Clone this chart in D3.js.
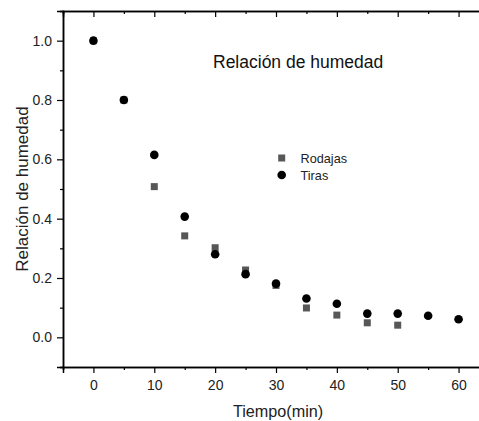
<!DOCTYPE html>
<html>
<head>
<meta charset="utf-8">
<script src="https://cdn.jsdelivr.net/npm/d3@7"></script>
<style>
html,body{margin:0;padding:0;background:#fff;}
svg{display:block;font-family:Arial,"Liberation Sans",sans-serif;}
</style>
</head>
<body>
<svg id="chart" width="479" height="421"></svg>
<script>
const tiempoRodajas = [0, 5, 10, 15, 20, 25, 30, 35, 40, 45, 50];
const rodajas = [1.0, 0.8, 0.508, 0.342, 0.302, 0.227, 0.175, 0.099, 0.075, 0.049, 0.041];
const tiempoTiras = [0, 5, 10, 15, 20, 25, 30, 35, 40, 45, 50, 55, 60];
const tiras = [1.0, 0.8, 0.615, 0.407, 0.280, 0.213, 0.181, 0.131, 0.113, 0.080, 0.080, 0.073, 0.061];
const xTicks = [0, 10, 20, 30, 40, 50, 60];
const xMinor = [-5, 5, 15, 25, 35, 45, 55, 65];
const yTicks = [0.0, 0.2, 0.4, 0.6, 0.8, 1.0];
const yMinor = [-0.1, 0.1, 0.3, 0.5, 0.7, 0.9, 1.1];
const title = "Relación de humedad";
const xLabel = "Tiempo(min)";
const yLabel = "Relación de humedad";
const seriesNames = ["Rodajas", "Tiras"];

const svg = d3.select("#chart");
const mLeft = 63, mTop = 11, mRight = 489, mBottom = 367;
const x = d3.scaleLinear().domain([-5, 65]).range([mLeft, mRight]);
const y = d3.scaleLinear().domain([-0.1, 1.1]).range([mBottom, mTop]);

// bottom axis
svg.append("g").attr("transform", `translate(0,${mBottom})`)
  .call(d3.axisBottom(x).tickValues(xTicks).tickSize(6).tickPadding(7).tickFormat(d3.format("d")));
svg.append("g").attr("transform", `translate(0,${mBottom})`)
  .call(d3.axisBottom(x).tickValues(xMinor).tickSize(3).tickFormat(""));
// top axis (inward ticks)
svg.append("g").attr("transform", `translate(0,${mTop})`)
  .call(d3.axisTop(x).tickValues(xTicks).tickSize(-6).tickFormat(""));
svg.append("g").attr("transform", `translate(0,${mTop})`)
  .call(d3.axisTop(x).tickValues(xMinor).tickSize(-3).tickFormat(""));
// left axis
svg.append("g").attr("transform", `translate(${mLeft},0)`)
  .call(d3.axisLeft(y).tickValues(yTicks).tickSize(6).tickPadding(5).tickFormat(d3.format(".1f")));
svg.append("g").attr("transform", `translate(${mLeft},0)`)
  .call(d3.axisLeft(y).tickValues(yMinor).tickSize(3).tickFormat(""));

svg.selectAll(".domain").attr("stroke", "#000").attr("stroke-width", 1.5);
svg.selectAll(".tick line").attr("stroke", "#000").attr("stroke-width", 1.2);
svg.selectAll(".tick text").attr("font-size", 14).attr("fill", "#222")
  .attr("font-family", "Arial, 'Liberation Sans', sans-serif");

// squares (Rodajas)
const sq = 7;
svg.append("g").selectAll("rect").data(tiempoRodajas).join("rect")
  .attr("x", (d) => x(d) - sq / 2)
  .attr("y", (d, i) => y(rodajas[i]) - sq / 2)
  .attr("width", sq).attr("height", sq)
  .attr("fill", "#575757");

// circles (Tiras)
svg.append("g").selectAll("circle").data(tiempoTiras).join("circle")
  .attr("cx", (d) => x(d))
  .attr("cy", (d, i) => y(tiras[i]))
  .attr("r", 4.3)
  .attr("fill", "#000");

// title
svg.append("text").attr("x", 213).attr("y", 68).attr("font-size", 17.5)
  .attr("fill", "#111").text(title);

// legend
svg.append("rect").attr("x", 281.7 - sq / 2).attr("y", 158 - sq / 2)
  .attr("width", sq).attr("height", sq).attr("fill", "#575757");
svg.append("circle").attr("cx", 281.7).attr("cy", 175).attr("r", 4.3).attr("fill", "#000");
svg.append("text").attr("x", 300.5).attr("y", 163).attr("font-size", 12.7).attr("fill", "#222").text(seriesNames[0]);
svg.append("text").attr("x", 300.5).attr("y", 179.5).attr("font-size", 12.7).attr("fill", "#222").text(seriesNames[1]);

// axis labels
svg.append("text").attr("x", 278).attr("y", 416.5).attr("text-anchor", "middle")
  .attr("font-size", 16.2).attr("fill", "#222").text(xLabel);
svg.append("text").attr("transform", "translate(28,189) rotate(-90)")
  .attr("text-anchor", "middle").attr("font-size", 17).attr("fill", "#222").text(yLabel);
</script>
</body>
</html>
